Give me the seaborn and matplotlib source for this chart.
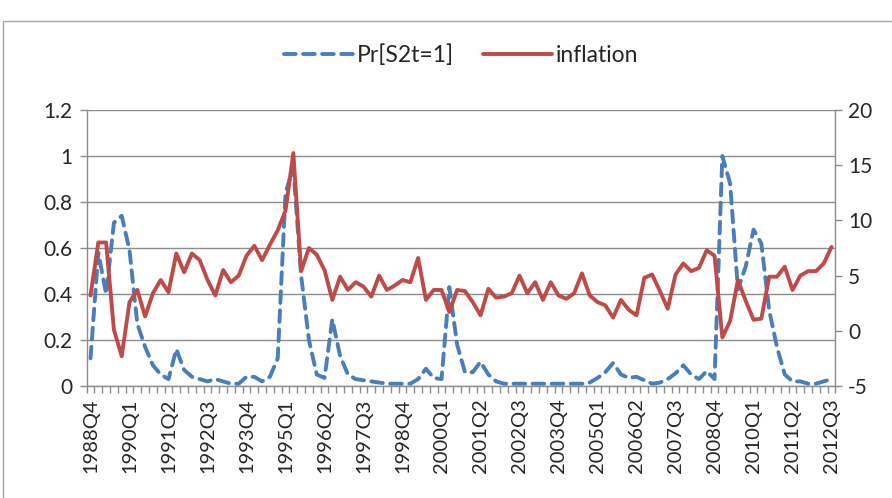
import numpy as np
import pandas as pd
import matplotlib
matplotlib.use("Agg")
import matplotlib.pyplot as plt
import seaborn as sns
from matplotlib.lines import Line2D
from matplotlib.patches import Rectangle

# ---- data -------------------------------------------------------------
quarters = (
    ["1988Q4"]
    + ["1989Q1", "1989Q2", "1989Q3", "1989Q4"]
    + ["1990Q1", "1990Q2", "1990Q3", "1990Q4"]
    + ["1991Q1", "1991Q2", "1991Q3", "1991Q4"]
    + ["1992Q1", "1992Q2", "1992Q3", "1992Q4"]
    + ["1993Q1", "1993Q2", "1993Q3", "1993Q4"]
    + ["1994Q1", "1994Q2", "1994Q3", "1994Q4"]
    + ["1995Q1", "1995Q2", "1995Q3", "1995Q4"]
    + ["1996Q1", "1996Q2", "1996Q3", "1996Q4"]
    + ["1997Q1", "1997Q2", "1997Q3", "1997Q4"]
    + ["1998Q1", "1998Q2", "1998Q3", "1998Q4"]
    + ["1999Q1", "1999Q2", "1999Q3", "1999Q4"]
    + ["2000Q1", "2000Q2", "2000Q3", "2000Q4"]
    + ["2001Q1", "2001Q2", "2001Q3", "2001Q4"]
    + ["2002Q1", "2002Q2", "2002Q3", "2002Q4"]
    + ["2003Q1", "2003Q2", "2003Q3", "2003Q4"]
    + ["2004Q1", "2004Q2", "2004Q3", "2004Q4"]
    + ["2005Q1", "2005Q2", "2005Q3", "2005Q4"]
    + ["2006Q1", "2006Q2", "2006Q3", "2006Q4"]
    + ["2007Q1", "2007Q2", "2007Q3", "2007Q4"]
    + ["2008Q1", "2008Q2", "2008Q3", "2008Q4"]
    + ["2009Q1", "2009Q2", "2009Q3", "2009Q4"]
    + ["2010Q1", "2010Q2", "2010Q3", "2010Q4"]
    + ["2011Q1", "2011Q2", "2011Q3", "2011Q4"]
    + ["2012Q1", "2012Q2", "2012Q3"]
)

tick_labels = ["1988Q4", "1990Q1", "1991Q2", "1992Q3", "1993Q4", "1995Q1",
               "1996Q2", "1997Q3", "1998Q4", "2000Q1", "2001Q2", "2002Q3",
               "2003Q4", "2005Q1", "2006Q2", "2007Q3", "2008Q4", "2010Q1",
               "2011Q2", "2012Q3"]

pr_s2 = [0.12, 0.58, 0.40, 0.71, 0.74, 0.59, 0.27, 0.17, 0.09, 0.05,
         0.03, 0.16, 0.07, 0.04, 0.03, 0.02, 0.03, 0.02, 0.01, 0.01,
         0.04, 0.04, 0.02, 0.04, 0.12, 0.84, 0.95, 0.48, 0.20, 0.05,
         0.035, 0.29, 0.13, 0.05, 0.03, 0.025, 0.02, 0.015, 0.01, 0.01,
         0.01, 0.01, 0.03, 0.075, 0.035, 0.03, 0.43, 0.18, 0.06, 0.06,
         0.105, 0.05, 0.02, 0.01, 0.01, 0.01, 0.01, 0.01, 0.01, 0.01,
         0.01, 0.01, 0.01, 0.01, 0.015, 0.035, 0.06, 0.10, 0.05, 0.035,
         0.04, 0.025, 0.01, 0.015, 0.03, 0.055, 0.09, 0.05, 0.03, 0.065,
         0.03, 1.00, 0.88, 0.42, 0.52, 0.68, 0.62, 0.33, 0.17, 0.05,
         0.02, 0.02, 0.01, 0.01, 0.02, 0.03]

inflation = [3.2, 8.0, 8.0, 0.1, -2.3, 2.6, 3.7, 1.3, 3.4, 4.6,
             3.5, 7.0, 5.3, 7.0, 6.4, 4.6, 3.2, 5.5, 4.4, 5.0,
             6.8, 7.7, 6.4, 7.8, 9.1, 10.9, 16.1, 5.4, 7.5, 6.9,
             5.5, 2.8, 4.9, 3.7, 4.4, 4.0, 3.1, 5.0, 3.7, 4.1,
             4.6, 4.4, 6.6, 2.8, 3.7, 3.7, 1.7, 3.7, 3.6, 2.6,
             1.4, 3.8, 3.0, 3.1, 3.4, 5.0, 3.4, 4.4, 2.8, 4.4,
             3.2, 2.9, 3.4, 5.2, 3.2, 2.6, 2.3, 1.2, 2.8, 1.9,
             1.4, 4.8, 5.1, 3.6, 2.0, 5.1, 6.1, 5.4, 5.7, 7.3,
             6.8, -0.6, 0.9, 4.6, 2.7, 1.0, 1.1, 4.9, 4.9, 5.8,
             3.7, 5.0, 5.4, 5.4, 6.1, 7.6]

left_ticks = [0, 0.2, 0.4, 0.6, 0.8, 1.0, 1.2]
left_tick_labels = ["0", "0.2", "0.4", "0.6", "0.8", "1", "1.2"]
right_ticks = [-5, 0, 5, 10, 15, 20]

# ---- style ------------------------------------------------------------
sns.set_theme(style="white")
plt.rcParams['font.family'] = ['Lato', 'DejaVu Sans']

BLUE = "#4A7EBB"
RED = "#BE4B48"
GRID = "#8C8C8C"
TXT = "#262626"
LW = 2.8
DASH = (0, (3.0, 1.9))

df = pd.DataFrame({"quarter": quarters, "pr": pr_s2, "inflation": inflation})

fig = plt.figure(figsize=(8.92, 4.98), dpi=100)
ax = fig.add_axes([0.0971, 0.2249, 0.8395, 0.5542])
ax2 = ax.twinx()

sns.lineplot(data=df, x="quarter", y="pr", ax=ax, color=BLUE, linewidth=LW,
             linestyle=DASH, dash_capstyle="round", sort=False, legend=False)
sns.lineplot(data=df, x="quarter", y="inflation", ax=ax2, color=RED,
             linewidth=LW, sort=False, legend=False)

n = len(quarters)
ax.set_xlim(-0.5, n - 0.5)
ax.set_ylim(0, 1.2)
ax2.set_ylim(-5, 20)

ax.set_yticks(left_ticks)
ax.set_yticklabels(left_tick_labels)
ax2.set_yticks(right_ticks)
ax2.set_yticklabels([str(v) for v in right_ticks])

major_pos = [quarters.index(t) for t in tick_labels]
ax.set_xticks(major_pos)
ax.set_xticklabels(tick_labels, rotation=90)
ax.set_xticks(np.arange(-0.5, n, 1.0), minor=True)

ax.set_xlabel("")
ax.set_ylabel("")
ax2.set_ylabel("")

ax.yaxis.grid(True, color=GRID, linewidth=1.0)
ax.xaxis.grid(False)
ax2.grid(False)
ax.set_axisbelow(True)

for a in (ax, ax2):
    for s in a.spines.values():
        s.set_visible(False)
ax.spines["left"].set_visible(True)
ax.spines["bottom"].set_visible(True)
ax2.spines["right"].set_visible(True)
for s in (ax.spines["left"], ax.spines["bottom"], ax2.spines["right"]):
    s.set_color(GRID)
    s.set_linewidth(1.0)

ax.tick_params(axis="y", which="major", direction="out", length=5, width=1,
               color=GRID, pad=5, labelsize=15, labelcolor=TXT, left=True)
ax2.tick_params(axis="y", which="major", direction="out", length=5, width=1,
                color=GRID, pad=4, labelsize=15, labelcolor=TXT, right=True)
ax.tick_params(axis="x", which="major", length=0, pad=9, labelsize=14.5,
               labelcolor=TXT, bottom=True)
ax.tick_params(axis="x", which="minor", direction="out", length=5, width=1,
               color=GRID, bottom=True)

handles = [
    Line2D([], [], color=BLUE, linewidth=LW, linestyle=DASH,
           dash_capstyle="round"),
    Line2D([], [], color=RED, linewidth=LW),
]
fig.legend(handles, ["Pr[S2t=1]", "inflation"], loc="center",
           bbox_to_anchor=(0.517, 0.89), ncol=2, frameon=False,
           fontsize=16.5, handlelength=3.0, handletextpad=0.15,
           columnspacing=1.3, labelcolor=TXT)

# chart-area frame
fig.patches.append(Rectangle((3 / 892, -0.2), 1.2, 1.2 - 21 / 498,
                             transform=fig.transFigure, fill=False,
                             edgecolor="#A6A6A6", linewidth=1.0))

fig.savefig("out.png", dpi=100)
